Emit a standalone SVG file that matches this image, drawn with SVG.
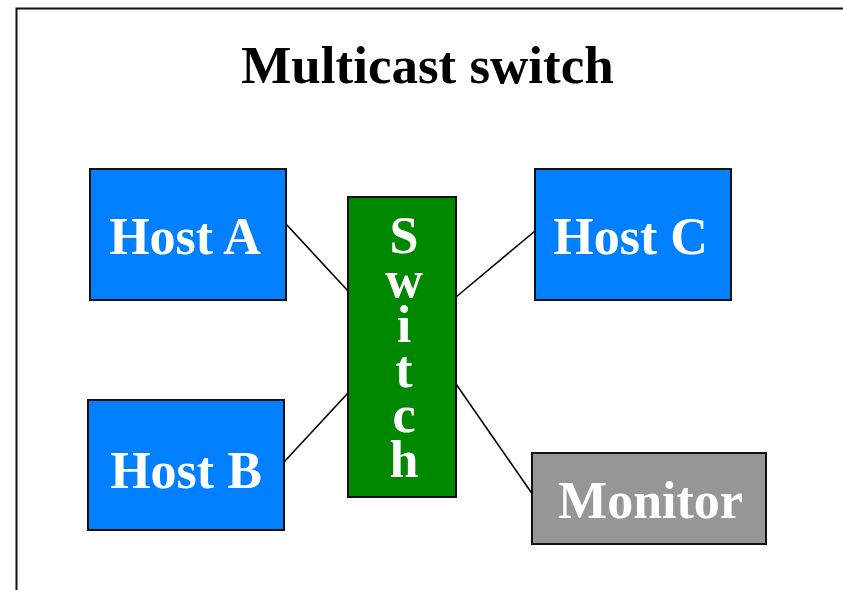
<svg xmlns="http://www.w3.org/2000/svg" width="843" height="590" viewBox="0 0 843 590">
<style>
.box{stroke:#111;stroke-width:2}
.host{fill:#0080FF}
.lbl{font-family:"Liberation Serif","Times New Roman",serif;font-weight:bold;font-size:52px;fill:#fff;text-anchor:middle}
.title{font-family:"Liberation Serif","Times New Roman",serif;font-weight:bold;font-size:53px;fill:#000;text-anchor:middle}
.conn{stroke:#000;stroke-width:1.6;fill:none}
</style>
<rect width="843" height="590" fill="#fff"/>
<path d="M16.5,590 V8.5 H843" fill="none" stroke="#111" stroke-width="2"/>
<text class="title" x="427.5" y="83">Multicast switch</text>
<g id="connectors">
<line class="conn" x1="286" y1="224" x2="348" y2="291"/>
<line class="conn" x1="284" y1="462" x2="348" y2="393"/>
<line class="conn" x1="456" y1="297" x2="535" y2="231"/>
<line class="conn" x1="456" y1="384" x2="533" y2="495"/>
</g>
<g id="hostA">
<rect class="box host" x="90" y="169" width="196" height="131"/>
<text class="lbl" x="185" y="254">Host A</text>
</g>
<g id="hostB">
<rect class="box host" x="88" y="400" width="196" height="130"/>
<text class="lbl" x="186" y="488">Host B</text>
</g>
<g id="hostC">
<rect class="box host" x="535" y="169" width="196" height="131"/>
<text class="lbl" x="630.5" y="254">Host C</text>
</g>
<g id="monitor">
<rect class="box" x="532" y="453" width="234" height="91" fill="#969696"/>
<text class="lbl" x="650.5" y="518">Monitor</text>
</g>
<g id="switch">
<rect class="box" x="348" y="197" width="108" height="300" fill="#008800"/>
<text class="lbl" x="404" y="253">S</text>
<text class="lbl" x="404" y="297">w</text>
<text class="lbl" x="404" y="342">i</text>
<text class="lbl" x="404" y="387">t</text>
<text class="lbl" x="404" y="432">c</text>
<text class="lbl" x="404" y="477">h</text>
</g>
</svg>
